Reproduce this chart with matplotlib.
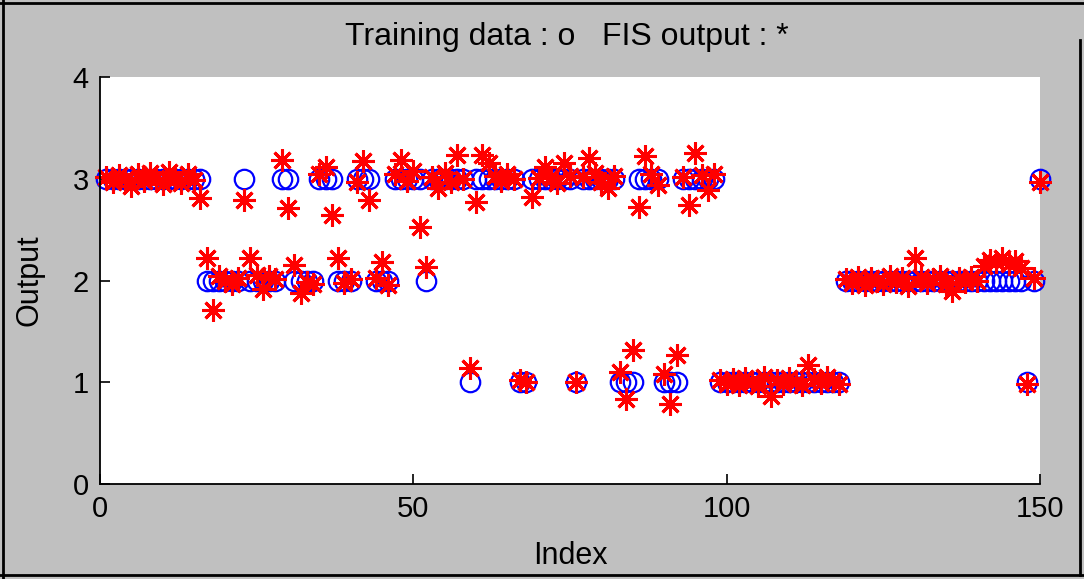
import matplotlib
matplotlib.use('Agg')
import matplotlib.pyplot as plt
from matplotlib.lines import Line2D

# index of the samples
index = list(range(1, 151))

# training data (class value of each sample)
training = [3] * 16 + [2] * 6 + [3] + [2] * 5 + [3] * 2 + [2] * 4 + [3] * 3 + [2] * 3 \
    + [3] * 3 + [2] * 3 + [3] * 5 + [2] + [3] * 6 + [1] + [3] * 7 + [1] * 2 + [3] * 7 \
    + [1] + [3] * 6 + [1] * 3 + [3] * 4 + [1] * 3 + [3] * 6 + [1] * 20 + [2] * 28 \
    + [2, 1, 2, 3]

# FIS output
fis_output = [
    3.02, 2.97, 3.04, 3.00, 2.93, 3.05, 2.98, 3.06, 3.01, 2.95,
    3.07, 3.00, 2.96, 3.05, 2.99, 2.81, 2.22, 1.71, 2.04, 2.00,
    1.97, 2.02, 2.79, 2.22, 2.05, 1.92, 2.04, 2.01, 3.18, 2.71,
    2.15, 1.88, 1.99, 1.97, 3.05, 3.12, 2.64, 2.22, 1.98, 2.01,
    2.97, 3.17, 2.79, 2.02, 2.18, 1.96, 3.05, 3.18, 2.98, 3.08,
    2.53, 2.13, 3.02, 2.91, 3.06, 2.97, 3.23, 3.00, 1.14, 2.77,
    3.23, 3.15, 3.03, 2.98, 3.05, 3.00, 1.02, 1.00, 2.82, 3.01,
    3.12, 3.02, 2.96, 3.15, 3.03, 1.00, 3.02, 3.20, 3.06, 2.97,
    2.91, 3.03, 1.10, 0.84, 1.32, 2.72, 3.22, 3.05, 2.94, 1.08,
    0.79, 1.27, 3.02, 2.74, 3.25, 3.04, 2.89, 3.05, 1.02, 0.98,
    1.03, 0.97, 1.04, 1.00, 0.96, 1.05, 0.86, 1.02, 0.98, 1.04,
    1.00, 0.97, 1.17, 1.03, 0.99, 1.05, 1.01, 0.98, 2.01, 1.98,
    2.03, 1.96, 2.02, 2.00, 1.97, 2.04, 1.99, 2.02, 1.95, 2.22,
    2.03, 1.98, 2.01, 2.04, 1.97, 1.90, 2.02, 1.99, 2.03, 2.00,
    2.14, 2.20, 2.18, 2.22, 2.16, 2.19, 2.12, 0.98, 2.02, 2.97,
]

gray = '#c0c0c0'
fig = plt.figure(figsize=(10.84, 5.79), dpi=100, facecolor=gray)
ax = fig.add_axes([100 / 1084, 1 - 484 / 579, 940 / 1084, 407 / 579])
ax.set_facecolor('white')

fam = ['Liberation Sans Narrow', 'Liberation Sans', 'DejaVu Sans']

# circles for training data, asterisks for the fis output
ax.plot(index, training, 'o', color='blue', markersize=14, markerfacecolor='none',
        markeredgewidth=1.6, clip_on=False)
ax.plot(index, fis_output, linestyle='none', marker=(8, 2, 0), color='red',
        markersize=16, markeredgewidth=2.2, clip_on=False)

ax.set_xlim(0, 150)
ax.set_ylim(0, 4)
ax.set_xticks([0, 50, 100, 150])
ax.set_yticks([0, 1, 2, 3, 4])
ax.tick_params(direction='in', length=7, width=1.2, labelsize=21, pad=8)
for lab in ax.get_xticklabels() + ax.get_yticklabels():
    lab.set_family(fam)
for side in ['top', 'right']:
    ax.spines[side].set_visible(False)
for side in ['left', 'bottom']:
    ax.spines[side].set_linewidth(1.3)

ax.set_xlabel('Index', fontsize=22, family=fam, labelpad=13)
ax.set_ylabel('Output', fontsize=22, family=fam, labelpad=20)
fig.text(567 / 1084, 1 - 37 / 579, 'Training data : o   FIS output : *',
         fontsize=23, family=fam, ha='center', va='center')

# window frame lines
fig.add_artist(Line2D([0, 1], [1 - 3 / 579, 1 - 3 / 579], color='black', lw=2))
fig.add_artist(Line2D([3 / 1084, 3 / 1084], [0, 1], color='black', lw=2))
fig.add_artist(Line2D([0, 1], [4 / 579, 4 / 579], color='black', lw=2))
fig.add_artist(Line2D([1080 / 1084, 1080 / 1084], [4 / 579, 1 - 40 / 579], color='black', lw=2))

fig.savefig('out.png', dpi=100, facecolor=gray)
